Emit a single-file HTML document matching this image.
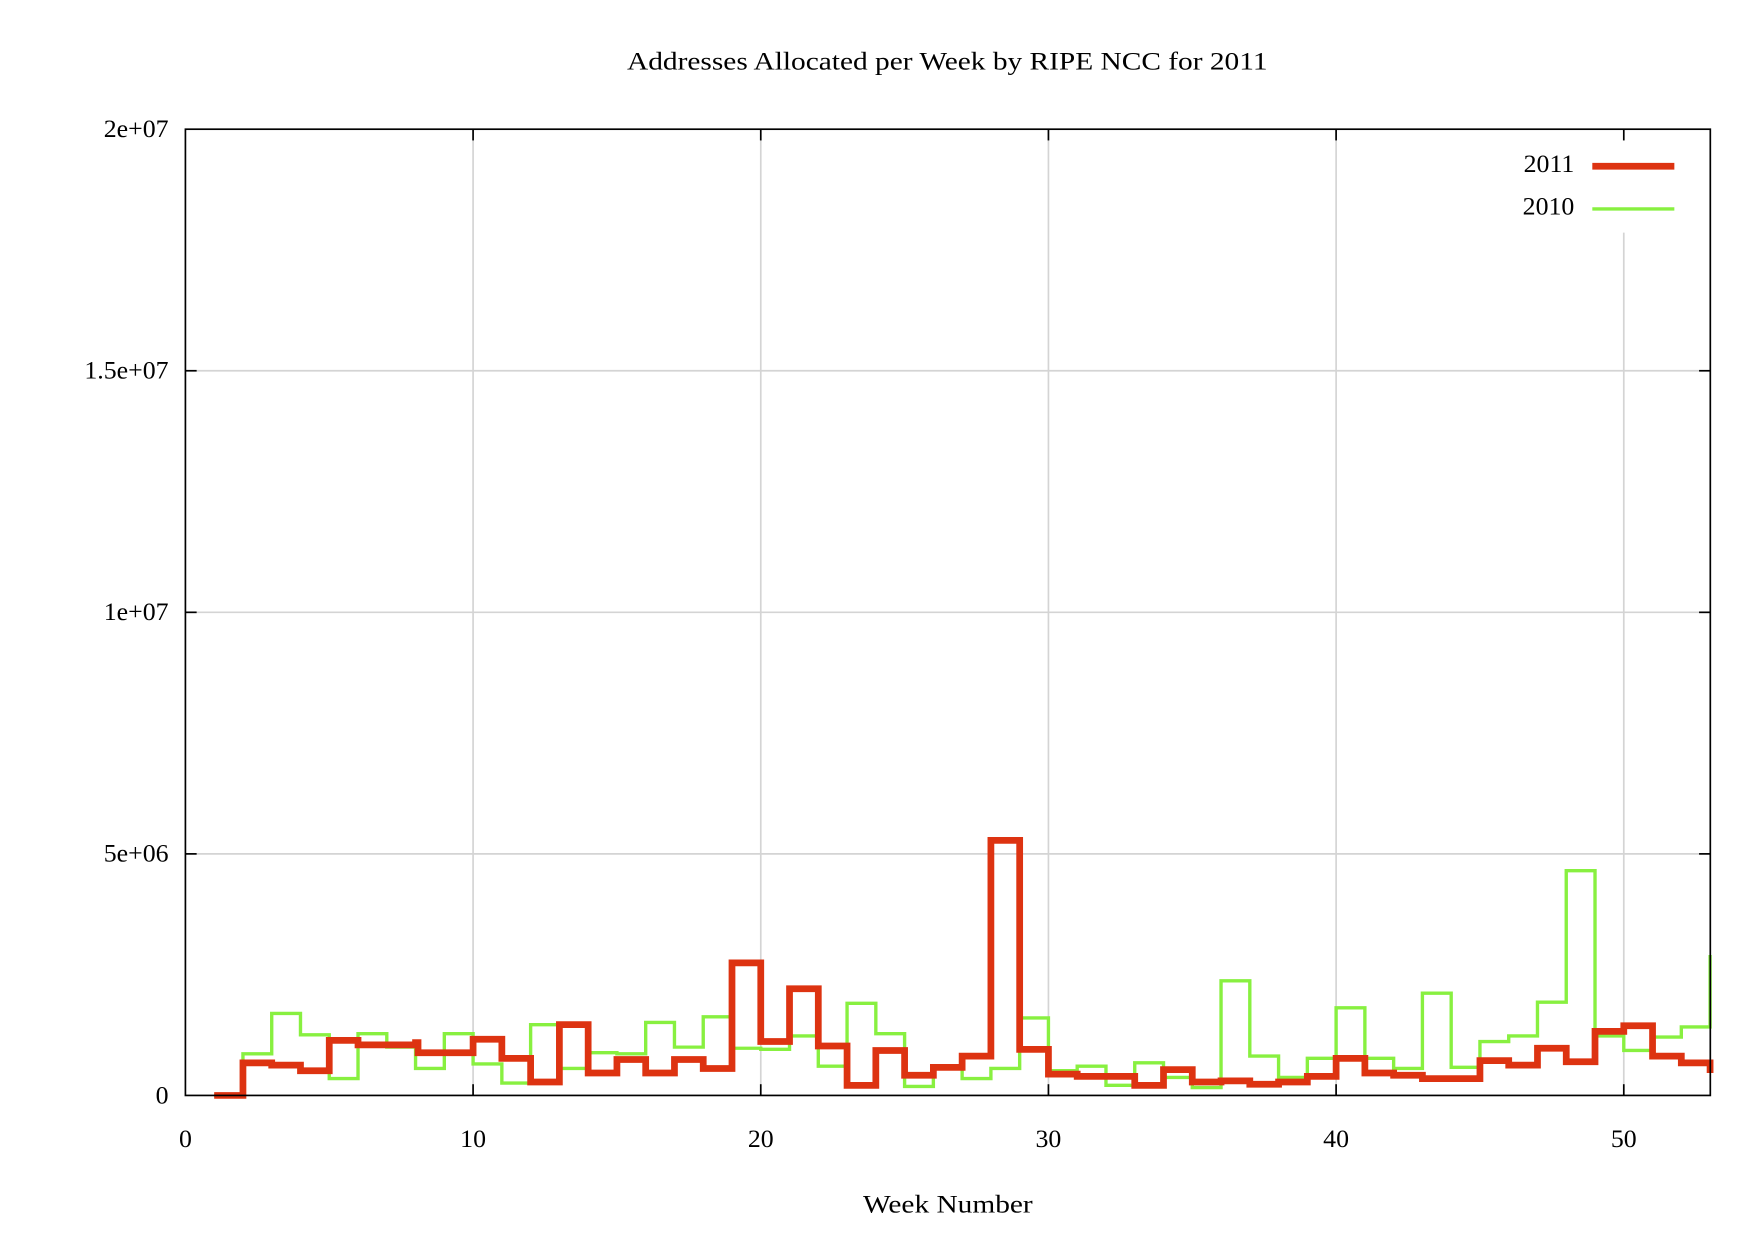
<!DOCTYPE html>
<html><head><meta charset="utf-8"><style>html,body{margin:0;padding:0;background:#fff}svg{display:block}</style></head><body>
<svg width="1762" height="1237" viewBox="0 0 1568 1101" preserveAspectRatio="none" xmlns="http://www.w3.org/2000/svg" font-family="Liberation Serif, serif" font-size="23">
<rect width="1568" height="1101" fill="#fff"/>
<g stroke="#d4d4d4" stroke-width="1.5">
<line x1="165" y1="330" x2="1522" y2="330"/><line x1="165" y1="545" x2="1522" y2="545"/><line x1="165" y1="760" x2="1522" y2="760"/>
<line x1="421" y1="115" x2="421" y2="975"/><line x1="677" y1="115" x2="677" y2="975"/><line x1="933" y1="115" x2="933" y2="975"/><line x1="1189" y1="115" x2="1189" y2="975"/><line x1="1445" y1="207" x2="1445" y2="975"/>
</g>
<g stroke="#000" stroke-width="1.5">
<line x1="165" y1="330" x2="175" y2="330"/><line x1="165" y1="545" x2="175" y2="545"/><line x1="165" y1="760" x2="175" y2="760"/>
<line x1="1512" y1="330" x2="1522" y2="330"/><line x1="1512" y1="545" x2="1522" y2="545"/><line x1="1512" y1="760" x2="1522" y2="760"/>
<line x1="421" y1="975" x2="421" y2="965"/><line x1="677" y1="975" x2="677" y2="965"/><line x1="933" y1="975" x2="933" y2="965"/><line x1="1189" y1="975" x2="1189" y2="965"/><line x1="1445" y1="975" x2="1445" y2="965"/>
<line x1="421" y1="115" x2="421" y2="125"/><line x1="677" y1="115" x2="677" y2="125"/><line x1="933" y1="115" x2="933" y2="125"/><line x1="1189" y1="115" x2="1189" y2="125"/><line x1="1445" y1="115" x2="1445" y2="125"/>
</g>
<path fill="none" stroke="#88f040" stroke-width="3" d="M190.6 975 H216.2 V938 H241.8 V902 H267.4 V921 H293 V960 H318.6 V920 H344.2 V932 H369.8 V951 H395.4 V920 H421 V947 H446.6 V964 H472.2 V912 H497.8 V951 H523.4 V937 H549 V938 H574.6 V910 H600.2 V932 H625.8 V905 H651.4 V933 H677 V934 H702.6 V922 H728.2 V949 H753.8 V893 H779.4 V920 H805 V967 H830.6 V950 H856.2 V960 H881.8 V951 H907.4 V906 H933 V953 H958.6 V949 H984.2 V966 H1009.8 V946 H1035.4 V959 H1061 V968 H1086.6 V873 H1112.2 V940 H1137.8 V959 H1163.4 V942 H1189 V897 H1214.6 V942 H1240.2 V951 H1265.8 V884 H1291.4 V950 H1317 V927 H1342.6 V922 H1368.2 V892 H1393.8 V775 H1419.4 V922 H1445 V935 H1470.6 V923 H1496.2 V914 H1521.8 V850"/>
<path fill="none" stroke="#dd3311" stroke-width="6" d="M190.6 975 H216.2 V946 H241.8 V948 H267.4 V953 H293 V926 H318.6 V930 H344.2 V930 H369.8 V928 H372 V937 H421 V925 H446.6 V942 H472.2 V963 H497.8 V912 H523.4 V955 H549 V943 H574.6 V955 H600.2 V943 H625.8 V951 H651.4 V857 H677 V927 H702.6 V880 H728.2 V931 H753.8 V966 H779.4 V935 H805 V957 H830.6 V950 H856.2 V940 H881.8 V748 H907.4 V934 H933 V956 H958.6 V958 H1009.8 V966 H1035.4 V952 H1061 V963 H1086.6 V962 H1112.2 V965 H1137.8 V963 H1163.4 V958 H1189 V942 H1214.6 V955 H1240.2 V957 H1265.8 V960 H1317 V944 H1342.6 V948 H1368.2 V933 H1393.8 V945 H1419.4 V918 H1445 V913 H1470.6 V940 H1496.2 V946 H1521.8 V955"/>
<rect x="165" y="115" width="1357" height="860" fill="none" stroke="#000" stroke-width="1.5"/>
<text x="558" y="62" textLength="570" lengthAdjust="spacingAndGlyphs">Addresses Allocated per Week by RIPE NCC for 2011</text>
<g text-anchor="end">
<text x="150" y="122">2e+07</text><text x="150" y="337">1.5e+07</text><text x="150" y="552">1e+07</text><text x="150" y="767">5e+06</text><text x="150" y="982">0</text>
</g>
<g text-anchor="middle">
<text x="165" y="1021">0</text><text x="421" y="1021">10</text><text x="677" y="1021">20</text><text x="933" y="1021">30</text><text x="1189" y="1021">40</text><text x="1445" y="1021">50</text>
</g>
<text x="768" y="1079" textLength="151" lengthAdjust="spacingAndGlyphs">Week Number</text>
<text x="1401" y="153" text-anchor="end">2011</text>
<line x1="1417" y1="148" x2="1490" y2="148" stroke="#dd3311" stroke-width="6"/>
<text x="1401" y="191" text-anchor="end">2010</text>
<line x1="1417" y1="186" x2="1490" y2="186" stroke="#88f040" stroke-width="3"/>
</svg>
</body></html>
